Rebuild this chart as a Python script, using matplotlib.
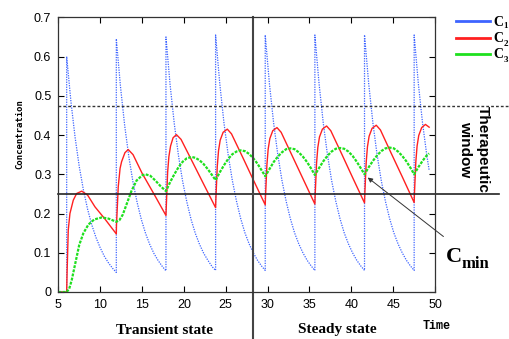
import matplotlib
matplotlib.use('Agg')
import matplotlib.pyplot as plt
from matplotlib.lines import Line2D

# dose times (vertical jumps of C1)
doses = [6.0, 11.93, 17.86, 23.79, 29.72, 35.65, 41.58, 47.51]

# C1 - blue, read every half time unit after each dose
c1_t = [5, 6,
        6.0, 6.5, 7.0, 7.5, 8.0, 8.5, 9.0, 9.5, 10.0, 10.5, 11.0, 11.5, 11.93,
        11.93, 12.43, 12.93, 13.43, 13.93, 14.43, 14.93, 15.43, 15.93, 16.43, 16.93, 17.43, 17.86,
        17.86, 18.36, 18.86, 19.36, 19.86, 20.36, 20.86, 21.36, 21.86, 22.36, 22.86, 23.36, 23.79,
        23.79, 24.29, 24.79, 25.29, 25.79, 26.29, 26.79, 27.29, 27.79, 28.29, 28.79, 29.29, 29.72,
        29.72, 30.22, 30.72, 31.22, 31.72, 32.22, 32.72, 33.22, 33.72, 34.22, 34.72, 35.22, 35.65,
        35.65, 36.15, 36.65, 37.15, 37.65, 38.15, 38.65, 39.15, 39.65, 40.15, 40.65, 41.15, 41.58,
        41.58, 42.08, 42.58, 43.08, 43.58, 44.08, 44.58, 45.08, 45.58, 46.08, 46.58, 47.08, 47.51,
        47.51, 48.01, 48.51, 49.01, 49.31]
c1_v = [0, 0,
        0.600, 0.487, 0.395, 0.320, 0.260, 0.211, 0.171, 0.139, 0.113, 0.091, 0.074, 0.060, 0.050,
        0.645, 0.523, 0.424, 0.344, 0.279, 0.227, 0.184, 0.149, 0.121, 0.098, 0.080, 0.065, 0.054,
        0.650, 0.527, 0.428, 0.347, 0.281, 0.229, 0.185, 0.150, 0.122, 0.099, 0.081, 0.065, 0.055,
        0.655, 0.531, 0.431, 0.350, 0.284, 0.231, 0.187, 0.151, 0.123, 0.100, 0.081, 0.066, 0.055,
        0.655, 0.531, 0.431, 0.350, 0.284, 0.231, 0.187, 0.151, 0.123, 0.100, 0.081, 0.066, 0.055,
        0.655, 0.531, 0.431, 0.350, 0.284, 0.231, 0.187, 0.151, 0.123, 0.100, 0.081, 0.066, 0.055,
        0.655, 0.531, 0.431, 0.350, 0.284, 0.231, 0.187, 0.151, 0.123, 0.100, 0.081, 0.066, 0.055,
        0.655, 0.531, 0.431, 0.350, 0.309]

# C2 - red
c2_t = [5, 6,
        6.05, 6.19, 6.39, 6.79, 7.19, 7.8, 8.5, 9.38, 10.57, 11.93,
        11.95, 12.16, 12.38, 12.56, 12.96, 13.35, 13.93, 15.0, 16.5, 17.86,
        17.89, 18.06, 18.21, 18.41, 18.71, 19.11, 19.66, 21.06, 22.36, 23.79,
        23.82, 23.99, 24.14, 24.34, 24.69, 25.19, 25.69, 26.99, 28.29, 29.72,
        29.75, 29.92, 30.07, 30.27, 30.62, 31.12, 31.62, 32.92, 34.22, 35.65,
        35.68, 35.85, 36.0, 36.2, 36.55, 37.05, 37.55, 38.85, 40.15, 41.58,
        41.61, 41.78, 41.93, 42.13, 42.48, 42.98, 43.48, 44.78, 46.08, 47.51,
        47.54, 47.71, 47.86, 48.06, 48.41, 48.86, 49.3]
c2_v = [0, 0,
        0.05, 0.158, 0.200, 0.234, 0.251, 0.257, 0.247, 0.217, 0.186, 0.148,
        0.170, 0.268, 0.315, 0.332, 0.355, 0.363, 0.350, 0.303, 0.247, 0.195,
        0.212, 0.305, 0.345, 0.372, 0.393, 0.401, 0.389, 0.330, 0.275, 0.215,
        0.235, 0.320, 0.360, 0.387, 0.407, 0.415, 0.403, 0.345, 0.286, 0.222,
        0.242, 0.324, 0.364, 0.391, 0.411, 0.419, 0.407, 0.348, 0.289, 0.224,
        0.244, 0.328, 0.368, 0.395, 0.415, 0.423, 0.411, 0.352, 0.292, 0.227,
        0.247, 0.330, 0.370, 0.397, 0.417, 0.425, 0.413, 0.353, 0.294, 0.228,
        0.248, 0.332, 0.372, 0.399, 0.419, 0.427, 0.420]

# C3 - green
c3_t = [5, 6,
        6.3, 6.6, 7.0, 7.5, 8.0, 8.6, 9.3, 10.2, 11.0, 11.93,
        12.3, 12.7, 13.2, 13.75, 14.35, 15.0, 15.4, 16.0, 16.6, 17.2, 17.86,
        18.36, 18.86, 19.36, 19.86, 20.36, 20.96, 21.36, 21.86, 22.36, 22.86, 23.36, 23.79,
        24.29, 24.79, 25.29, 25.79, 26.29, 26.79, 27.29, 27.79, 28.29, 28.79, 29.29, 29.72,
        30.22, 30.72, 31.22, 31.72, 32.22, 32.72, 33.22, 33.72, 34.22, 34.72, 35.22, 35.65,
        36.15, 36.65, 37.15, 37.65, 38.15, 38.65, 39.15, 39.65, 40.15, 40.65, 41.15, 41.58,
        42.08, 42.58, 43.08, 43.58, 44.08, 44.58, 45.08, 45.58, 46.08, 46.58, 47.08, 47.51,
        48.01, 48.51, 49.01, 49.3]
c3_v = [0, 0,
        0.008, 0.030, 0.070, 0.120, 0.150, 0.172, 0.185, 0.190, 0.187, 0.179,
        0.183, 0.197, 0.226, 0.258, 0.284, 0.297, 0.300, 0.296, 0.284, 0.270, 0.257,
        0.280, 0.300, 0.318, 0.332, 0.341, 0.344, 0.342, 0.336, 0.326, 0.313, 0.298, 0.285,
        0.305, 0.323, 0.339, 0.351, 0.358, 0.361, 0.359, 0.352, 0.341, 0.327, 0.310, 0.295,
        0.313, 0.331, 0.345, 0.356, 0.364, 0.366, 0.364, 0.356, 0.345, 0.331, 0.314, 0.298,
        0.316, 0.333, 0.347, 0.358, 0.365, 0.367, 0.365, 0.358, 0.347, 0.332, 0.315, 0.300,
        0.318, 0.334, 0.348, 0.359, 0.366, 0.368, 0.366, 0.358, 0.347, 0.333, 0.316, 0.300,
        0.318, 0.334, 0.348, 0.353]

window_top = 0.474
window_bottom = 0.249
steady_start = 28.27

x_ticks = [5, 10, 15, 20, 25, 30, 35, 40, 45, 50]
y_ticks = [0, 0.1, 0.2, 0.3, 0.4, 0.5, 0.6, 0.7]
y_labels = ['0', '0.1', '0.2', '0.3', '0.4', '0.5', '0.6', '0.7']

blue = '#3d64ff'
red = '#ff2020'
green = '#1ee01e'

W, H = 510, 339
fig = plt.figure(figsize=(W / 100, H / 100), dpi=100)
ax = fig.add_axes([58.3 / W, 1 - 292 / H, (435 - 58.3) / W, (292 - 17.3) / H])

ax.plot(c1_t, c1_v, color=blue, lw=0.9, linestyle=(0, (1, 1)))
ax.plot(c2_t, c2_v, color=red, lw=1.0)
ax.plot(c3_t, c3_v, color=green, lw=1.6, linestyle=(0, (1.3, 0.6)))

# therapeutic window and steady state marker, running past the axes
ax.plot([5, 58.9], [window_top, window_top], color='#333333', lw=1.0,
        linestyle=(0, (2, 1.5)), clip_on=False)
ax.plot([5, 57.7], [window_bottom, window_bottom], color='#222222', lw=1.2, clip_on=False)
ax.plot([steady_start, steady_start], [0.7, -0.125], color='#444444', lw=1.5, clip_on=False)

ax.annotate('', xy=(41.7, 0.296), xytext=(51.27, 0.137),
            arrowprops=dict(arrowstyle='-|>', lw=0.7, color='#333333', mutation_scale=7),
            annotation_clip=False)

ax.set_xlim(5, 50)
ax.set_ylim(0, 0.7)
ax.set_xticks(x_ticks)
ax.set_yticks(y_ticks)
ax.set_yticklabels(y_labels)
ax.tick_params(direction='in', length=4, width=0.8, top=True, right=True,
               labelsize=9, pad=5)
for lab in ax.get_xticklabels() + ax.get_yticklabels():
    lab.set_fontfamily('Liberation Sans')
for s in ax.spines.values():
    s.set_color('#333333')
    s.set_linewidth(0.9)

# texts
fig.text(20 / W, 1 - 134 / H, 'Concentration', rotation=90, ha='center', va='center',
         family='DejaVu Sans Mono', weight='bold', fontsize=6.5)
fig.text(437 / W, 1 - 326 / H, 'Time', ha='center', va='center',
         family='Liberation Mono', weight='bold', fontsize=8.5)
fig.text(164 / W, 1 - 331 / H, 'Transient state', ha='center', va='center',
         family='Liberation Serif', weight='bold', fontsize=11)
fig.text(337 / W, 1 - 330 / H, 'Steady state', ha='center', va='center',
         family='Liberation Serif', weight='bold', fontsize=11)
fig.text(474 / W, 1 - 149 / H, 'Therapeutic\nwindow', rotation=270, ha='center', va='center',
         family='Liberation Sans', weight='heavy', fontsize=11, linespacing=1.35)
fig.text(446 / W, 1 - 262 / H, 'C', ha='left', va='baseline',
         family='Liberation Serif', weight='bold', fontsize=16)
fig.text(462 / W, 1 - 268 / H, 'min', ha='left', va='baseline',
         family='Liberation Serif', weight='bold', fontsize=12)

# legend drawn by hand outside the axes
legend_y = [21, 38, 54]
legend_colors = [blue, red, green]
legend_subs = ['1', '2', '3']
for y, c, sub in zip(legend_y, legend_colors, legend_subs):
    fig.add_artist(Line2D([456 / W, 490 / W], [1 - y / H, 1 - y / H], color=c, lw=2))
    fig.text(493 / W, 1 - (y + 4.5) / H, 'C', ha='left', va='baseline',
             family='Liberation Serif', weight='bold', fontsize=10)
    fig.text(503.5 / W, 1 - (y + 7.5) / H, sub, ha='left', va='baseline',
             family='Liberation Serif', weight='bold', fontsize=6.5)

fig.savefig('out.png', dpi=100)
